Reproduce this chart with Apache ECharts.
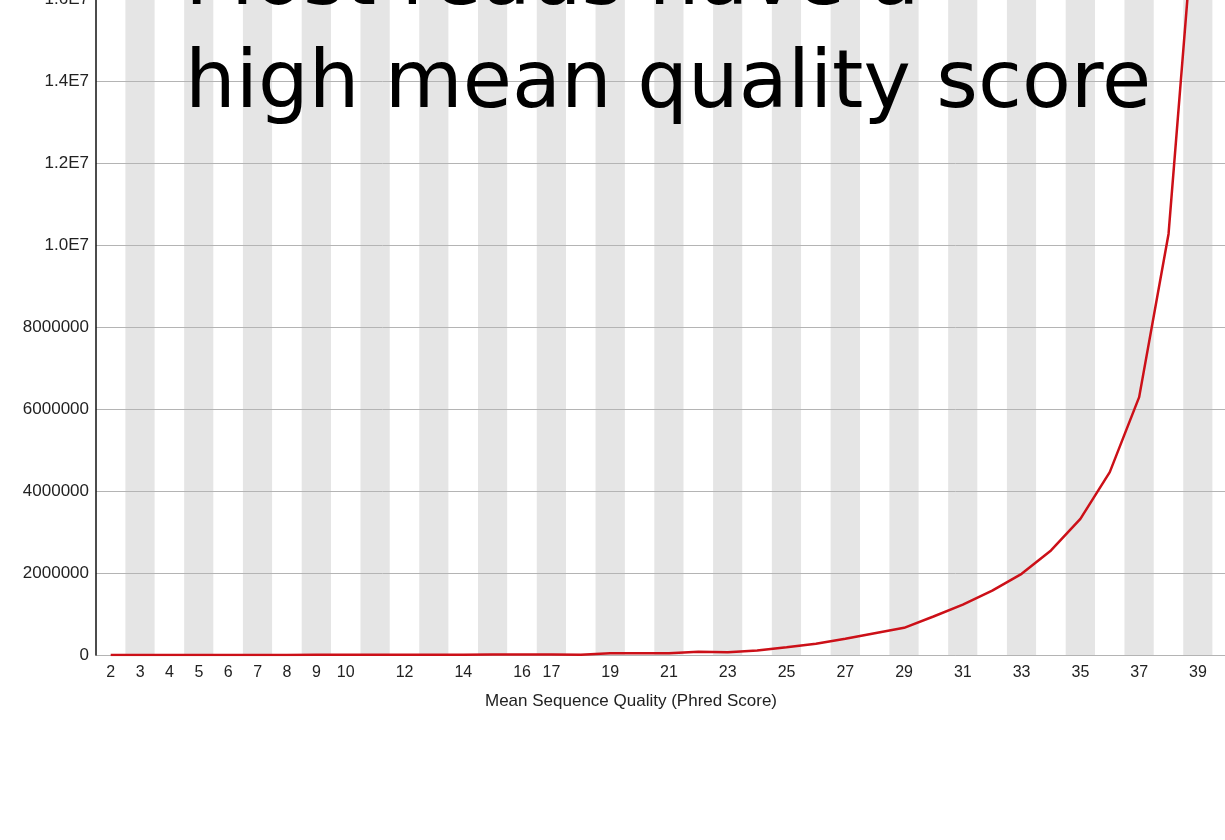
<!DOCTYPE html>
<html>
<head>
<meta charset="utf-8">
<title>Per sequence quality scores</title>
<script src="https://cdn.jsdelivr.net/npm/echarts@6/dist/echarts.min.js"></script>
<style>
  html, body { margin: 0; padding: 0; background: #ffffff; overflow: hidden; width: 1225px; height: 840px; }
  #chart { position: absolute; left: 0; top: -200px; width: 1245px; height: 1040px; }
</style>
</head>
<body>
<div id="chart"></div>
<script>
// Mean sequence quality (Phred score) per read
const qualityScores = ['2','3','4','5','6','7','8','9','10','11','12','13','14','15','16','17','18','19','20',
  '21','22','23','24','25','26','27','28','29','30','31','32','33','34','35','36','37','38','39','40'];

// Number of reads with each mean quality
const readCounts = [1500, 900, 1100, 1400, 1700, 2100, 2600, 3200, 3900, 4700, 5700, 6800, 8200, 9900,
  12000, 15000, 9000, 44000, 44000, 45000, 78000, 68000, 110000, 190000, 273000, 395000, 532000,
  663000, 939000, 1230000, 1570000, 1980000, 2550000, 3320000, 4460000, 6290000, 10270000, 19200000, null];

// Category labels printed under the x axis
const shownTickLabels = ['2','3','4','5','6','7','8','9','10','12','14','16','17','19','21','23','25',
  '27','29','31','33','35','37','39'];

const titleText = 'Most reads have a\nhigh mean quality score';
const xAxisName = 'Mean Sequence Quality (Phred Score)';

const chart = echarts.init(document.getElementById('chart'), null, { renderer: 'canvas' });

function yLabel(v) {
  if (v >= 1e7) return (v / 1e7).toFixed(1) + 'E7';
  return String(v);
}

chart.setOption({
  animation: false,
  backgroundColor: '#ffffff',
  title: {
    text: titleText,
    left: 180,
    top: 127,
    z: 10,
    textStyle: {
      fontFamily: 'DejaVu Sans',
      fontSize: 80,
      fontWeight: 'normal',
      lineHeight: 103,
      color: '#000000'
    }
  },
  grid: { left: 96, right: 3, top: 35, bottom: 185, containLabel: false },
  xAxis: {
    type: 'category',
    data: qualityScores,
    boundaryGap: true,
    z: 0,
    name: xAxisName,
    nameLocation: 'middle',
    nameGap: 38,
    nameTextStyle: {
      fontFamily: 'Liberation Sans',
      fontSize: 17,
      color: '#222222',
      padding: [0, 76, 0, 0]
    },
    axisLine: { show: true, lineStyle: { color: '#b5b5b5', width: 1 } },
    axisTick: { show: false },
    axisLabel: {
      interval: (idx, value) => shownTickLabels.includes(value),
      margin: 10,
      fontFamily: 'Liberation Sans',
      fontSize: 16,
      color: '#222222'
    },
    splitLine: { show: false },
    splitArea: {
      show: true,
      interval: 0,
      areaStyle: { color: ['#ffffff', '#e5e5e5'] }
    }
  },
  yAxis: {
    type: 'value',
    min: 0,
    max: 20000000,
    interval: 2000000,
    z: 3,
    axisLine: { show: true, lineStyle: { color: '#111111', width: 1.5 } },
    axisTick: { show: false },
    axisLabel: {
      formatter: yLabel,
      margin: 7,
      fontFamily: 'Liberation Sans',
      fontSize: 17,
      color: '#222222'
    },
    splitLine: { show: true, lineStyle: { color: '#b4b4b4', width: 1 } }
  },
  series: [{
    type: 'line',
    data: readCounts,
    symbol: 'none',
    smooth: false,
    connectNulls: false,
    lineStyle: { color: '#cc1018', width: 2.5 },
    z: 5
  }]
});
</script>
</body>
</html>
